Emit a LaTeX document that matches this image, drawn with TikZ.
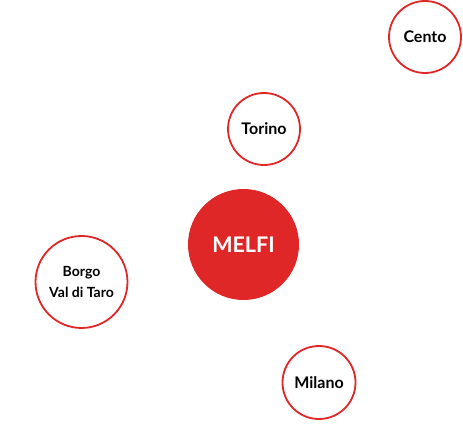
\documentclass[tikz,border=0pt]{standalone}
\usepackage{fontspec}
\setmainfont{Lato}
\definecolor{cred}{HTML}{E02727}
\begin{document}
\begin{tikzpicture}[x=1pt,y=-1pt,
  city/.style={circle,draw=cred,line width=1.8pt,fill=white,inner sep=0pt,font=\bfseries\fontsize{16}{19}\selectfont,text=black,align=center},
  hub/.style={circle,fill=cred,inner sep=0pt,font=\bfseries\fontsize{21.5}{24}\selectfont,text=white}]
\useasboundingbox (0,0) rectangle (463,435);
\node[hub,minimum size=111pt] (melfi) at (243.5,244.5) {MELFI};
\node[city,minimum size=72pt] (cento) at (425,37) {Cento};
\node[city,minimum size=72pt] (torino) at (264,129) {Torino};
\node[city,minimum size=92pt,font=\bfseries\fontsize{14}{20.5}\selectfont] (borgo) at (81.5,282) {Borgo\\Val di Taro};
\node[city,minimum size=73pt] (milano) at (319,382.5) {Milano};
\end{tikzpicture}
\end{document}
